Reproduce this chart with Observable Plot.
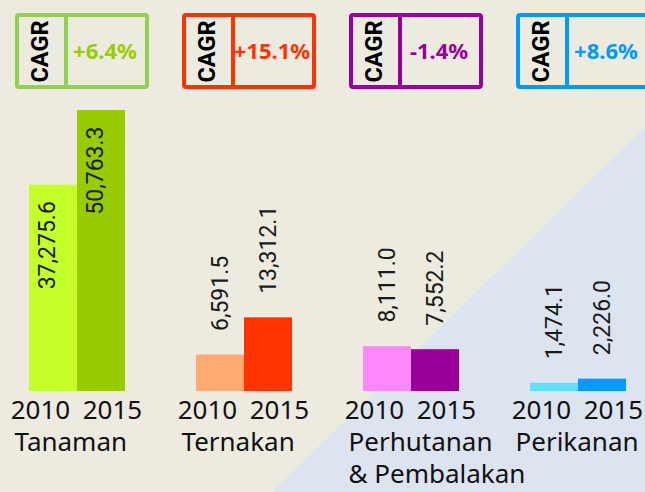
<!DOCTYPE html>
<html><head><meta charset="utf-8">
<script src="https://cdn.jsdelivr.net/npm/d3@7"></script>
<script src="https://cdn.jsdelivr.net/npm/@observablehq/plot@0.6"></script>
<style>
html,body{margin:0;padding:0;background:#edebe0;}
#chart{position:relative;width:645px;height:492px;overflow:hidden;background:#edebe0;}
#tri{position:absolute;left:0;top:0;width:645px;height:492px;background:#dce4f0;clip-path:polygon(272px 492px,645px 492px,645px 127px);}
#chart svg{position:relative;display:block;}
</style></head><body>
<div id="chart"><div id="tri"></div></div>
<script>
// ---- data ----
const sectors = ["Tanaman", "Ternakan", "Perhutanan\n& Pembalakan", "Perikanan"];
const years = ["2010", "2015"];
const values2010 = [37275.6, 6591.5, 8111.0, 1474.1];
const values2015 = [50763.3, 13312.1, 7552.2, 2226.0];
const cagr = [6.4, 15.1, -1.4, 8.6];
const cagrLabel = "CAGR";
const colors2010 = ["#c4ff29", "#ffaa73", "#ff88ff", "#5ce1ff"];
const colors2015 = ["#99cc00", "#ff3300", "#990099", "#0099ff"];
const boxColors = ["#92d050", "#ff3300", "#990099", "#0099ff"];
const cagrTextColors = ["#99cc00", "#ff3300", "#990099", "#0099ff"];

// ---- tables ----
const rows = sectors.flatMap((s, i) => [
  {sector: s, year: years[0], value: values2010[i], color: colors2010[i]},
  {sector: s, year: years[1], value: values2015[i], color: colors2015[i]}
]);
const cagrRows = sectors.map((s, i) => ({sector: s, cagr: cagr[i], box: boxColors[i], txt: cagrTextColors[i]}));

const narrow = "Roboto, 'Liberation Sans', sans-serif";
const sans = "'Noto Sans', 'Liberation Sans', sans-serif";
const fmt = d3.format(",.1f");
const fmtPct = v => (v > 0 ? "+" : "") + v.toFixed(1) + "%";
const inner = 0.4226;

const topPlot = Plot.plot({
  width: 645, height: 100,
  marginLeft: 27, marginRight: 17, marginTop: 15, marginBottom: 13,
  x: {domain: sectors, paddingInner: inner, paddingOuter: 0, axis: null},
  y: {domain: [0, 1], axis: null},
  color: {type: "identity"},
  style: {background: "transparent"},
  marks: [
    Plot.barY(cagrRows, {x: "sector", y1: 0, y2: 1, fill: "none", stroke: "box", strokeWidth: 4, rx: 2, insetLeft: -12, insetRight: -22}),
    Plot.ruleX(cagrRows, {x: "sector", y1: 0, y2: 1, stroke: "box", strokeWidth: 4, dx: -11.5}),
    Plot.text(cagrRows, {x: "sector", y: 0.5, text: d => cagrLabel, rotate: -90, dx: -37, fontSize: 23.5, fontWeight: "bold", fill: "#000", fontFamily: narrow}),
    Plot.text(cagrRows, {x: "sector", y: 0.5, text: d => fmtPct(d.cagr), dx: 27.5, fontSize: 22, fontWeight: "bold", fill: "txt", fontFamily: sans})
  ]
});

const mainPlot = Plot.plot({
  width: 645, height: 392,
  marginLeft: 27, marginRight: 17, marginTop: 10, marginBottom: 101,
  facet: {data: rows, x: "sector"},
  fx: {domain: sectors, paddingInner: inner, paddingOuter: 0, axis: null},
  x: {domain: years, padding: 0, axis: null},
  y: {domain: [0, d3.max(values2015)], axis: null},
  color: {type: "identity"},
  style: {background: "transparent"},
  marks: [
    Plot.barY(rows, {x: "year", y: "value", fill: "color"}),
    Plot.text(rows, {filter: d => d.value < 30000, x: "year", y: "value", text: d => fmt(d.value), rotate: -90, textAnchor: "start", dy: -24, fontSize: 23, fill: "#1a1a1a", fontFamily: narrow}),
    Plot.text(rows, {filter: d => d.value >= 30000, x: "year", y: "value", text: d => fmt(d.value), rotate: -90, textAnchor: "end", dy: 16, dx: -6, fontSize: 23, fill: "#1a1a1a", fontFamily: narrow}),
    Plot.text(rows, {filter: d => d.year === years[0], x: "year", frameAnchor: "bottom", text: "year", dy: 27, dx: -13, fontSize: 26, fill: "#111", fontFamily: sans}),
    Plot.text(rows, {filter: d => d.year === years[1], x: "year", frameAnchor: "bottom", text: "year", dy: 27, dx: 11, fontSize: 26, fill: "#111", fontFamily: sans}),
    Plot.text(rows, {filter: d => d.year === years[0], frameAnchor: "bottom-left", text: "sector", textAnchor: "start", lineAnchor: "top", lineHeight: 1.23, dy: 37, dx: -15, fontSize: 26, fill: "#111", fontFamily: sans})
  ]
});

const chart = document.getElementById("chart");
chart.appendChild(topPlot);
chart.appendChild(mainPlot);
</script>
</body></html>
